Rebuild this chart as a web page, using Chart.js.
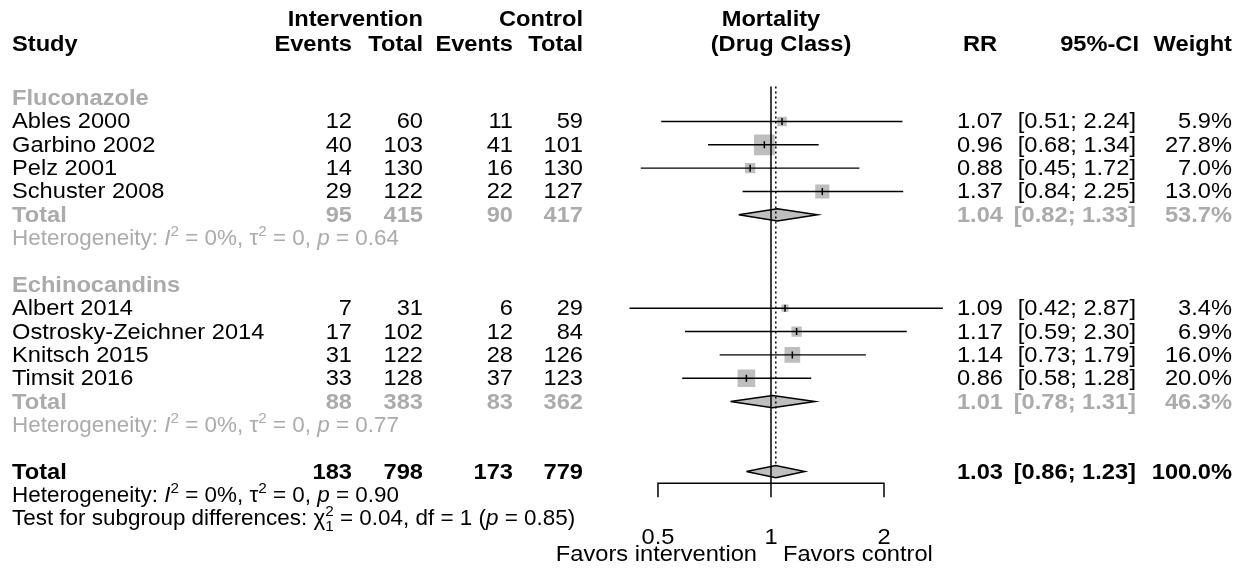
<!DOCTYPE html>
<html>
<head>
<meta charset="utf-8">
<script src="https://cdn.jsdelivr.net/npm/chart.js@4.4.1/dist/chart.umd.min.js"></script>
<style>
  html, body { margin: 0; padding: 0; background: #fff; }
  canvas { display: block; }
</style>
</head>
<body>
<canvas id="forest" width="1247" height="572"></canvas>
<script>
// ---- data ----
const groupNames = ['Fluconazole', 'Echinocandins'];
const studies = ['Ables 2000', 'Garbino 2002', 'Pelz 2001', 'Schuster 2008',
  'Albert 2014', 'Ostrosky-Zeichner 2014', 'Knitsch 2015', 'Timsit 2016'];
const studyGroup = [0, 0, 0, 0, 1, 1, 1, 1];
const eventsInt = [12, 40, 14, 29, 7, 17, 31, 33];
const totalInt = [60, 103, 130, 122, 31, 102, 122, 128];
const eventsCtl = [11, 41, 16, 22, 6, 12, 28, 37];
const totalCtl = [59, 101, 130, 127, 29, 84, 126, 123];
const rr = [1.07, 0.96, 0.88, 1.37, 1.09, 1.17, 1.14, 0.86];
const ciLow = [0.51, 0.68, 0.45, 0.84, 0.42, 0.59, 0.73, 0.58];
const ciHigh = [2.24, 1.34, 1.72, 2.25, 2.87, 2.30, 1.79, 1.28];
const weight = [5.9, 27.8, 7.0, 13.0, 3.4, 6.9, 16.0, 20.0];

// subgroup pooled results
const grpEventsInt = [95, 88];
const grpTotalInt = [415, 383];
const grpEventsCtl = [90, 83];
const grpTotalCtl = [417, 362];
const grpRR = [1.04, 1.01];
const grpLow = [0.82, 0.78];
const grpHigh = [1.33, 1.31];
const grpWeight = [53.7, 46.3];
const grpP = ['0.64', '0.77'];

// overall
const allEvents = [183, 798, 173, 779];
const allRR = 1.03, allLow = 0.86, allHigh = 1.23, allWeight = 100.0;
const allP = '0.90';
const subChi = '0.04', subDf = '1', subP = '0.85';

// axis
const axisTicks = [0.5, 1, 2];
const axisLabels = ['0.5', '1', '2'];

// ---- layout ----
const SX = 1.075;           // source text is a bit wider than Liberation Sans
const SX_STAT = 1.02;       // heterogeneity lines are a little tighter
const FONT = '"Liberation Sans", Arial, sans-serif';
const GRAY = '#ababab';
const FILL = '#bebebe';
const col = { study: 12, evI: 352, nI: 423, evC: 513, nC: 583, rr: 1003, ci: 1136, w: 1232 };
const H1 = 26, H2 = 51;

// rows
const studyRow = [];
const grpRow = [];
let r = 0;
groupNames.forEach((g, gi) => {
  grpRow.push({ label: r++ });
  studies.forEach((s, i) => { if (studyGroup[i] === gi) studyRow[i] = r++; });
  grpRow[gi].total = r++;
  grpRow[gi].het = r++;
  r++;
});
const allRow = r;
const refTop = -0.5, axisRow = 16.5, tickEnd = 17.1, dh = 0.26;

// ---- datasets ----
const datasets = [];

// reference line at 1 and dotted line at pooled estimate
datasets.push({ data: [{x: 1, y: refTop}, {x: 1, y: tickEnd}], borderColor: '#000', borderWidth: 1.5, order: 0 });
datasets.push({ data: [{x: allRR, y: refTop}, {x: allRR, y: allRow - dh}], borderColor: '#000', borderWidth: 1.5, borderDash: [2, 3], order: 0 });
// axis bracket
datasets.push({ data: [{x: axisTicks[0], y: tickEnd}, {x: axisTicks[0], y: axisRow}, {x: axisTicks[2], y: axisRow}, {x: axisTicks[2], y: tickEnd}],
  borderColor: '#000', borderWidth: 1.5, order: 0 });

// CI lines
studies.forEach((s, i) => {
  datasets.push({ data: [{x: ciLow[i], y: studyRow[i]}, {x: ciHigh[i], y: studyRow[i]}], borderColor: '#000', borderWidth: 1.4, order: 2 });
});
// estimate ticks
datasets.push({ data: studies.map((s, i) => ({x: rr[i], y: studyRow[i]})), showLine: false,
  pointStyle: 'line', pointRotation: 90, pointRadius: 3.5, borderColor: '#000', pointBorderWidth: 1.5, order: 1 });
// weight squares
datasets.push({ data: studies.map((s, i) => ({x: rr[i], y: studyRow[i]})), showLine: false,
  pointStyle: 'rect', pointRadius: weight.map(w => 3.93 * Math.sqrt(w) / Math.SQRT2),
  backgroundColor: FILL, borderWidth: 0, pointBorderWidth: 0, order: 3 });

// diamonds
function diamond(est, lo, hi, row) {
  return { data: [{x: lo, y: row}, {x: est, y: row - dh}, {x: hi, y: row}, {x: est, y: row + dh}, {x: lo, y: row}],
    borderColor: '#000', borderWidth: 1.5, backgroundColor: FILL, fill: 'shape', order: 3 };
}
groupNames.forEach((g, gi) => datasets.push(diamond(grpRR[gi], grpLow[gi], grpHigh[gi], grpRow[gi].total)));
datasets.push(diamond(allRR, allLow, allHigh, allRow));

// ---- text helpers ----
function put(ctx, s, x, y, align, opt) {
  opt = opt || {};
  ctx.save();
  ctx.font = (opt.it ? 'italic ' : '') + (opt.bold ? 'bold ' : '') + (opt.size || 22) + 'px ' + FONT;
  ctx.fillStyle = opt.color || '#000';
  ctx.textAlign = align;
  ctx.textBaseline = 'alphabetic';
  ctx.translate(x, y);
  ctx.scale(opt.sx || SX, 1);
  ctx.fillText(s, 0, 0);
  ctx.restore();
}
function textW(ctx, s, opt) {
  ctx.save();
  ctx.font = (opt.it ? 'italic ' : '') + (opt.size || 22) + 'px ' + FONT;
  const w = ctx.measureText(s).width * (opt.sx || SX);
  ctx.restore();
  return w;
}
function rich(ctx, parts, x, y, color) {
  let cx = x;
  parts.forEach(p => {
    const size = (p.sup || p.sub) ? 15 : 22;
    const dy = p.sup ? -9 : (p.sub ? 6 : 0);
    const o = {it: p.it, size: size, color: color, sx: SX_STAT};
    put(ctx, p.t, cx, y + dy, 'left', o);
    if (!p.stay) cx += textW(ctx, p.t, o);
  });
}
function hetParts(p) {
  return [{t: 'Heterogeneity: '}, {t: 'I', it: true}, {t: '2', sup: true}, {t: ' = 0%, '},
    {t: 'τ'}, {t: '2', sup: true}, {t: ' = 0, '}, {t: 'p', it: true}, {t: ' = ' + p}];
}
const ci = (lo, hi) => '[' + lo.toFixed(2) + '; ' + hi.toFixed(2) + ']';

const textPlugin = {
  id: 'forestText',
  afterDraw(chart) {
    const ctx = chart.ctx;
    const xs = chart.scales.x, ys = chart.scales.y;
    const base = row => ys.getPixelForValue(row) + 7;
    const B = {bold: true};

    // headers
    put(ctx, 'Study', col.study, H2, 'left', B);
    put(ctx, 'Intervention', col.nI, H1, 'right', B);
    put(ctx, 'Events', col.evI, H2, 'right', B);
    put(ctx, 'Total', col.nI, H2, 'right', B);
    put(ctx, 'Control', col.nC, H1, 'right', B);
    put(ctx, 'Events', col.evC, H2, 'right', B);
    put(ctx, 'Total', col.nC, H2, 'right', B);
    put(ctx, 'Mortality', 771, H1, 'center', B);
    put(ctx, '(Drug Class)', 781, H2, 'center', B);
    put(ctx, 'RR', 980, H2, 'center', B);
    put(ctx, '95%-CI', 1139, H2, 'right', B);
    put(ctx, 'Weight', col.w, H2, 'right', B);

    // studies
    studies.forEach((s, i) => {
      const y = base(studyRow[i]);
      put(ctx, s, col.study, y, 'left');
      put(ctx, String(eventsInt[i]), col.evI, y, 'right');
      put(ctx, String(totalInt[i]), col.nI, y, 'right');
      put(ctx, String(eventsCtl[i]), col.evC, y, 'right');
      put(ctx, String(totalCtl[i]), col.nC, y, 'right');
      put(ctx, rr[i].toFixed(2), col.rr, y, 'right');
      put(ctx, ci(ciLow[i], ciHigh[i]), col.ci, y, 'right');
      put(ctx, weight[i].toFixed(1) + '%', col.w, y, 'right');
    });

    // subgroups
    groupNames.forEach((g, gi) => {
      const G = {bold: true, color: GRAY};
      put(ctx, g, col.study, base(grpRow[gi].label), 'left', G);
      const y = base(grpRow[gi].total);
      put(ctx, 'Total', col.study, y, 'left', G);
      put(ctx, String(grpEventsInt[gi]), col.evI, y, 'right', G);
      put(ctx, String(grpTotalInt[gi]), col.nI, y, 'right', G);
      put(ctx, String(grpEventsCtl[gi]), col.evC, y, 'right', G);
      put(ctx, String(grpTotalCtl[gi]), col.nC, y, 'right', G);
      put(ctx, grpRR[gi].toFixed(2), col.rr, y, 'right', G);
      put(ctx, ci(grpLow[gi], grpHigh[gi]), col.ci, y, 'right', G);
      put(ctx, grpWeight[gi].toFixed(1) + '%', col.w, y, 'right', G);
      rich(ctx, hetParts(grpP[gi]), col.study, base(grpRow[gi].het), GRAY);
    });

    // overall
    const y = base(allRow);
    put(ctx, 'Total', col.study, y, 'left', B);
    [col.evI, col.nI, col.evC, col.nC].forEach((cx, k) => put(ctx, String(allEvents[k]), cx, y, 'right', B));
    put(ctx, allRR.toFixed(2), col.rr, y, 'right', B);
    put(ctx, ci(allLow, allHigh), col.ci, y, 'right', B);
    put(ctx, allWeight.toFixed(1) + '%', col.w, y, 'right', B);
    rich(ctx, hetParts(allP), col.study, base(allRow + 1), '#000');
    rich(ctx, [{t: 'Test for subgroup differences: '}, {t: 'χ'}, {t: '2', sup: true, stay: true}, {t: subDf, sub: true},
      {t: ' = ' + subChi + ', df = ' + subDf + ' ('}, {t: 'p', it: true}, {t: ' = ' + subP + ')'}], col.study, base(allRow + 2), '#000');

    // axis labels
    const ay = ys.getPixelForValue(axisRow);
    axisTicks.forEach((t, k) => put(ctx, axisLabels[k], xs.getPixelForValue(t), ay + 61, 'center'));
    const x1 = xs.getPixelForValue(1);
    put(ctx, 'Favors intervention', x1 - 14, ay + 78, 'right');
    put(ctx, 'Favors control', x1 + 12, ay + 78, 'left');
  }
};

new Chart(document.getElementById('forest'), {
  type: 'line',
  data: { datasets: datasets },
  options: {
    responsive: false,
    animation: false,
    events: [],
    layout: { padding: { left: 621.6, right: 296.9, top: 0, bottom: 0 } },
    elements: { point: { radius: 0 }, line: { tension: 0 } },
    scales: {
      x: { type: 'logarithmic', min: 0.4, max: 3, display: false },
      y: { type: 'linear', reverse: true, min: -3.672, max: 19.770, display: false }
    },
    plugins: { legend: { display: false }, tooltip: { enabled: false } }
  },
  plugins: [textPlugin]
});
</script>
</body>
</html>
